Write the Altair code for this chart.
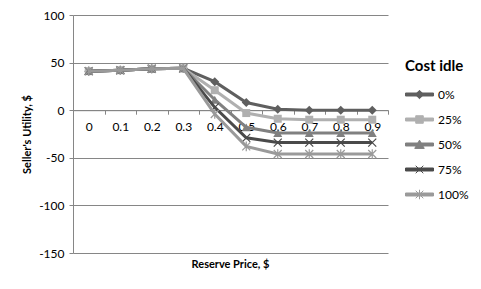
import altair as alt
import pandas as pd

prices = ["0", "0.1", "0.2", "0.3", "0.4", "0.5", "0.6", "0.7", "0.8", "0.9"]
series_names = ["0%", "25%", "50%", "75%", "100%"]
u0 = [41, 42, 43.5, 44, 30, 8, 1, 0, 0, 0]
u25 = [41, 42, 43.5, 44, 21, -3, -9, -10, -10, -10]
u50 = [41, 42, 43.5, 44, 11, -18, -24, -24, -24, -24]
u75 = [41, 42, 43.5, 44, 3, -29, -34, -34, -34, -34]
u100 = [41, 42, 43.5, 44, -4, -38, -46, -46, -46, -46]
colors = ["#5f5f5f", "#b0b0b0", "#808080", "#4a4a4a", "#9a9a9a"]

rows = []
for name, vals in zip(series_names, [u0, u25, u50, u75, u100]):
    for p, v in zip(prices, vals):
        rows.append({"price": p, "utility": v, "series": name})
df = pd.DataFrame(rows)

W, H = 315, 238
YMIN, YMAX = -150, 100
x_axis_offset = -H * (0 - YMIN) / (YMAX - YMIN)
GRID = "#868686"
FONT = "Lato"

x_enc = alt.X(
    "price:N", sort=prices, bandPosition=0.5,
    scale=alt.Scale(type="band", paddingInner=0, paddingOuter=0),
    axis=alt.Axis(title=None, labelAngle=0, offset=x_axis_offset, tickBand="extent",
                  domainColor=GRID, tickColor=GRID, tickSize=4, labelPadding=7,
                  labelFontSize=12, labelColor="black", grid=False, labelFont=FONT),
)
y_axis = alt.Axis(values=[-150, -100, -50, 0, 50, 100], title="Seller's Utility, $",
                  labelExpr="'' + datum.value",
                  titleFontSize=11, titleFontWeight="bold", titleFont=FONT, titleColor="black",
                  grid=True, gridColor=GRID, domainColor=GRID, tickColor=GRID, tickSize=4,
                  labelFontSize=12, labelPadding=5, titlePadding=6, labelColor="black",
                  labelFont=FONT)
y_scale = alt.Scale(domain=[YMIN, YMAX], nice=False, zero=False)
y_enc = alt.Y("utility:Q", scale=y_scale, axis=y_axis)
color_scale = alt.Scale(domain=series_names, range=colors)

marker_specs = [
    dict(shape="diamond", filled=True, size=81),
    dict(shape="square", filled=True, size=64),
    dict(shape="triangle-up", filled=True, size=81),
    dict(shape="M-1,-1L1,1M-1,1L1,-1", filled=False, size=64, strokeWidth=1.2),
    dict(shape="M-1,-1L1,1M-1,1L1,-1M0,-1.2L0,1.2", filled=False, size=64, strokeWidth=1.2),
]

legend_paths = [
    "M-1,-0.107H1V0.107H-1Z M0,-0.3L0.3,0L0,0.3L-0.3,0Z",
    "M-1,-0.107H1V0.107H-1Z M-0.27,-0.27H0.27V0.27H-0.27Z",
    "M-1,-0.107H1V0.107H-1Z M0,-0.31L0.34,0.28H-0.34Z",
    "M-1,-0.107H1V0.107H-1Z M-0.27,-0.27L0.27,0.27M-0.27,0.27L0.27,-0.27",
    "M-1,-0.107H1V0.107H-1Z M-0.27,-0.27L0.27,0.27M-0.27,0.27L0.27,-0.27M0,-0.34L0,0.34",
]

layers = []
for name, spec, col in zip(series_names, marker_specs, colors):
    base = alt.Chart(df).transform_filter(alt.datum.series == name)
    line = base.mark_line(strokeWidth=3, color=col).encode(x=x_enc, y=y_enc)
    pts = base.mark_point(opacity=1, color=col, **spec).encode(x=x_enc, y=y_enc)
    layers += [line, pts]

leg_kwargs = dict(
    title="Cost idle", orient="none", legendX=332, legendY=44,
    titleFontSize=15, titleFontWeight="bold", titleFont=FONT, titleColor="black",
    labelFontSize=12, labelFont=FONT, labelColor="black",
    symbolSize=784, symbolOpacity=1, symbolStrokeWidth=1,
    rowPadding=4, titlePadding=6, labelOffset=4,
)
leg = alt.Chart(df).transform_calculate(hidden="1000").mark_point(
    filled=True, size=784, clip=True, strokeWidth=1).encode(
    x=x_enc,
    y=alt.Y("hidden:Q", scale=y_scale, axis=y_axis),
    color=alt.Color("series:N", scale=color_scale, sort=series_names,
                    legend=alt.Legend(**leg_kwargs)),
    stroke=alt.Stroke("series:N", scale=color_scale, sort=series_names,
                      legend=alt.Legend(**leg_kwargs)),
    shape=alt.Shape("series:N", sort=series_names,
                    scale=alt.Scale(domain=series_names, range=legend_paths),
                    legend=alt.Legend(**leg_kwargs)),
)
layers.append(leg)

chart = alt.layer(*layers).properties(
    width=W, height=H,
    padding={"left": 65, "top": 7, "right": 85, "bottom": 28},
    autosize=alt.AutoSizeParams(type="none"),
    background="white",
    title=alt.TitleParams("Reserve Price, $", orient="bottom", anchor="middle", frame="group",
                          fontSize=11, fontWeight="bold", font=FONT, color="black", offset=0),
).configure_view(stroke=None)

chart.save("out.html", embed_options={"renderer": "svg", "actions": False})
